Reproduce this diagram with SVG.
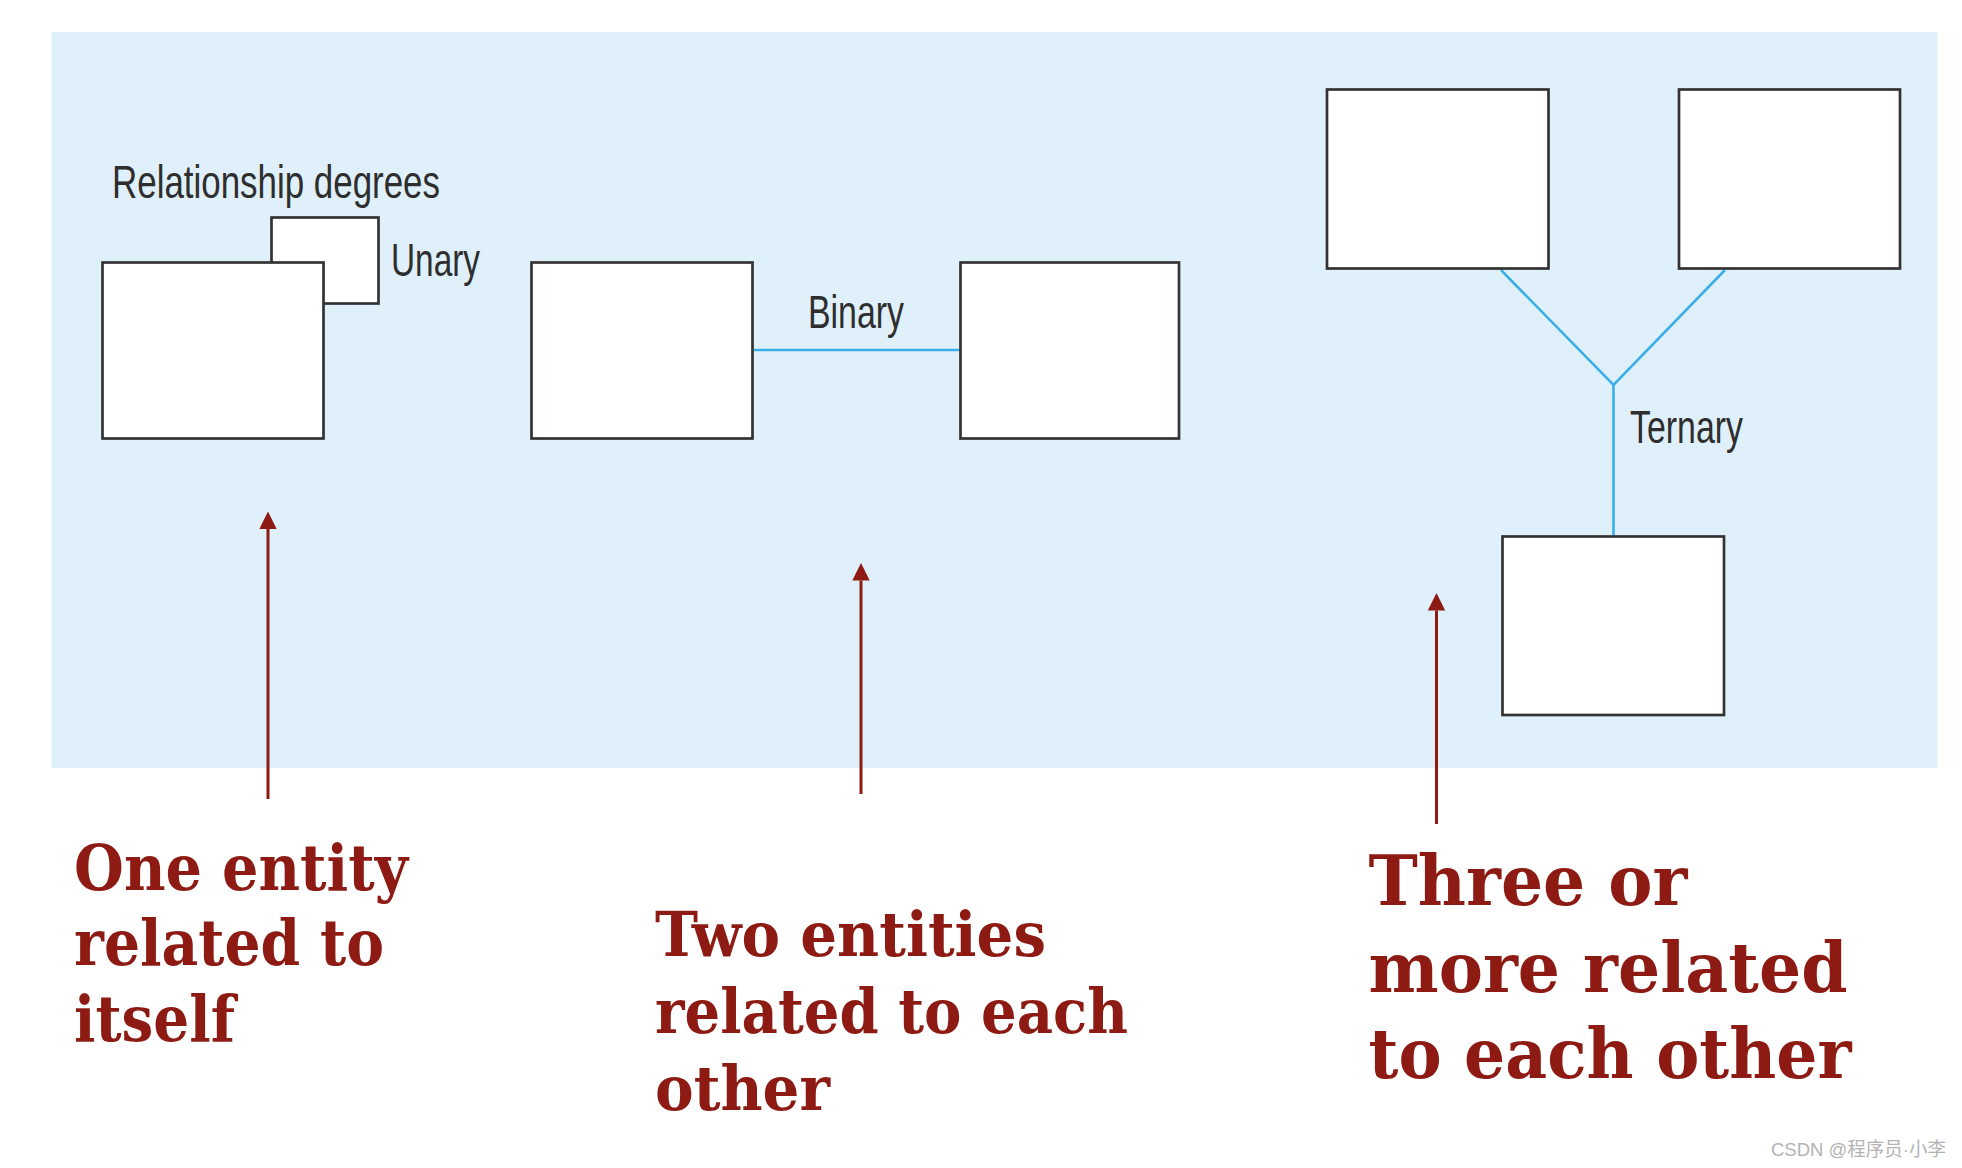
<svg xmlns="http://www.w3.org/2000/svg" width="1962" height="1168" viewBox="0 0 1962 1168">
<style>
.ent{fill:#ffffff;stroke:#333333;stroke-width:2.7}
.lbl{font-family:"Liberation Sans",Arial,sans-serif;font-size:47px;fill:#2e2e2e}
.rel{fill:none;stroke:#3aaee6;stroke-width:2.6}
.note{font-family:"DejaVu Serif","Liberation Serif",serif;font-weight:bold;fill:#8e1b13}
.ptr{stroke:#8e1b13;stroke-width:3;fill:none}
</style>
<defs>
<marker id="ah" markerUnits="userSpaceOnUse" markerWidth="18" markerHeight="18" viewBox="0 0 18 18" refX="0" refY="9" orient="auto">
<path d="M0,0.3 L17.5,9 L0,17.7 Z" fill="#8e1b13"/>
</marker>
</defs>
<rect x="0" y="0" width="1962" height="1168" fill="#ffffff"/>
<rect id="panel" x="51.5" y="32" width="1886" height="736" fill="#dff0fa"/>
<text class="lbl" x="112" y="198" textLength="328" lengthAdjust="spacingAndGlyphs">Relationship degrees</text>
<g id="connectors">
<line class="rel" x1="754" y1="350" x2="960" y2="350"/>
<polyline class="rel" stroke-width="2" points="1501,270 1613.5,385 1725,270"/>
<line class="rel" stroke-width="2" x1="1613.5" y1="385" x2="1613.5" y2="536"/>
<line class="ptr" x1="268" y1="799" x2="268" y2="529" marker-end="url(#ah)"/>
<line class="ptr" x1="861" y1="794" x2="861" y2="580.5" marker-end="url(#ah)"/>
<line class="ptr" x1="1436.5" y1="824" x2="1436.5" y2="610.5" marker-end="url(#ah)"/>
</g>
<g id="unary">
<rect class="ent" x="271.5" y="217.5" width="107" height="86"/>
<rect class="ent" x="102.5" y="262.5" width="221" height="176"/>
<text class="lbl" x="391" y="276" textLength="89" lengthAdjust="spacingAndGlyphs">Unary</text>
</g>
<g id="binary">
<rect class="ent" x="531.5" y="262.5" width="221" height="176"/>
<rect class="ent" x="960.5" y="262.5" width="218.5" height="176"/>
<text class="lbl" x="808" y="328" textLength="96" lengthAdjust="spacingAndGlyphs">Binary</text>
</g>
<g id="ternary">
<rect class="ent" x="1327" y="89.5" width="221.5" height="179"/>
<rect class="ent" x="1679" y="89.5" width="221" height="179"/>
<rect class="ent" x="1502.5" y="536.5" width="221.5" height="178.5"/>
<text class="lbl" x="1630" y="442.5" textLength="113" lengthAdjust="spacingAndGlyphs">Ternary</text>
</g>
<g id="note-unary">
<text class="note" font-size="63" x="74" y="890" textLength="334" lengthAdjust="spacingAndGlyphs">One entity</text>
<text class="note" font-size="63" x="74" y="965" textLength="310" lengthAdjust="spacingAndGlyphs">related to</text>
<text class="note" font-size="63" x="74" y="1040.5" textLength="161" lengthAdjust="spacingAndGlyphs">itself</text>
</g>
<g id="note-binary">
<text class="note" font-size="61" x="655" y="956" textLength="391" lengthAdjust="spacingAndGlyphs">Two entities</text>
<text class="note" font-size="61" x="655" y="1033" textLength="473" lengthAdjust="spacingAndGlyphs">related to each</text>
<text class="note" font-size="61" x="655" y="1110" textLength="175" lengthAdjust="spacingAndGlyphs">other</text>
</g>
<g id="note-ternary">
<text class="note" font-size="69" x="1368.5" y="905" textLength="319" lengthAdjust="spacingAndGlyphs">Three or</text>
<text class="note" font-size="69" x="1368.5" y="991.5" textLength="479" lengthAdjust="spacingAndGlyphs">more related</text>
<text class="note" font-size="69" x="1368.5" y="1078" textLength="483" lengthAdjust="spacingAndGlyphs">to each other</text>
</g>
<text x="1771" y="1156" font-family="'Liberation Sans','Noto Sans CJK SC',sans-serif" font-size="19" fill="#b3b3b3" textLength="175" lengthAdjust="spacingAndGlyphs">CSDN @程序员·小李</text>
</svg>
